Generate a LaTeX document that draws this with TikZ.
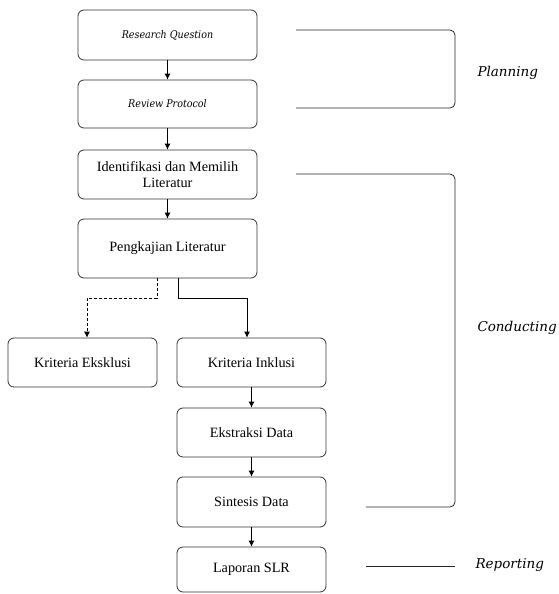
\documentclass[tikz,border=0pt]{standalone}
\usepackage{fontspec}
\setmainfont{Liberation Serif}
\newfontfamily\itfont{DejaVu Serif}[ItalicFont={DejaVu Serif Italic}]
\newfontfamily\itcfont{DejaVu Serif Condensed}[ItalicFont={DejaVu Serif Condensed Italic}]
\usetikzlibrary{arrows.meta}
\begin{document}
\begin{tikzpicture}[x=1pt,y=-1pt,
  box/.style={draw=black!80,line width=0.8pt,rounded corners=6pt,minimum width=179pt,inner sep=2pt,align=center,font=\fontsize{14.2}{16.5}\selectfont},
  sbox/.style={box,minimum width=149pt},
  itx/.style={font=\itcfont\itshape\fontsize{10.6}{13}\selectfont},
  arr/.style={draw=black,line width=0.8pt,-{Latex[length=6pt,width=6pt]}},
  brk/.style={draw=black!85,line width=0.8pt,rounded corners=5pt},
  lab/.style={anchor=west,font=\itfont\itshape\fontsize{13.5}{16}\selectfont}]
\useasboundingbox (0,0) rectangle (558,594);
\node[box,itx,minimum height=50pt] (rq) at (167.5,35) {Research Question};
\node[box,itx,minimum height=48pt] (rp) at (167.5,104) {Review Protocol};
\node[box,minimum height=49pt] (id) at (167.5,174.5) {Identifikasi dan Memilih\\Literatur};
\node[box,minimum height=59pt] (pk) at (167.5,248.5) {Pengkajian Literatur};
\node[sbox,minimum height=49pt] (ke) at (82.5,362.5) {Kriteria Eksklusi};
\node[sbox,minimum height=49pt] (ki) at (251.5,362.5) {Kriteria Inklusi};
\node[sbox,minimum height=49pt] (ed) at (251.5,432.5) {Ekstraksi Data};
\node[sbox,minimum height=50pt] (sd) at (251.5,502) {Sintesis Data};
\node[sbox,minimum height=45pt] (lp) at (251.5,569.5) {Laporan SLR};
\draw[arr] (rq.south) -- (rp.north);
\draw[arr] (rp.south) -- (id.north);
\draw[arr] (id.south) -- (pk.north);
\draw[arr,dashed,dash pattern=on 3pt off 2pt] ([xshift=-10.5pt]pk.south) -- ++(0,20) -| ([xshift=4.5pt]ke.north);
\draw[arr] ([xshift=10.5pt]pk.south) -- ++(0,20) -| ([xshift=-4.5pt]ki.north);
\draw[arr] (ki.south) -- (ed.north);
\draw[arr] (ed.south) -- (sd.north);
\draw[arr] (sd.south) -- (lp.north);
\coordinate (p1) at (296,30);
\coordinate (p2) at (296,108);
\coordinate (c1) at (296,174);
\coordinate (c2) at (366,507);
\coordinate (r1) at (366,566);
\coordinate (r2) at (455,566);
\draw[brk] (p1) -- (455,30) -- (455,108) -- (p2);
\draw[brk] (c1) -- (455,174) -- (455,507) -- (c2);
\draw[brk] (r1) -- (r2);
\node[lab] (pl) at (474,73) {Planning};
\node[lab] (co) at (474,328) {Conducting};
\node[lab] (re) at (472,565) {Reporting};
\end{tikzpicture}
\end{document}
